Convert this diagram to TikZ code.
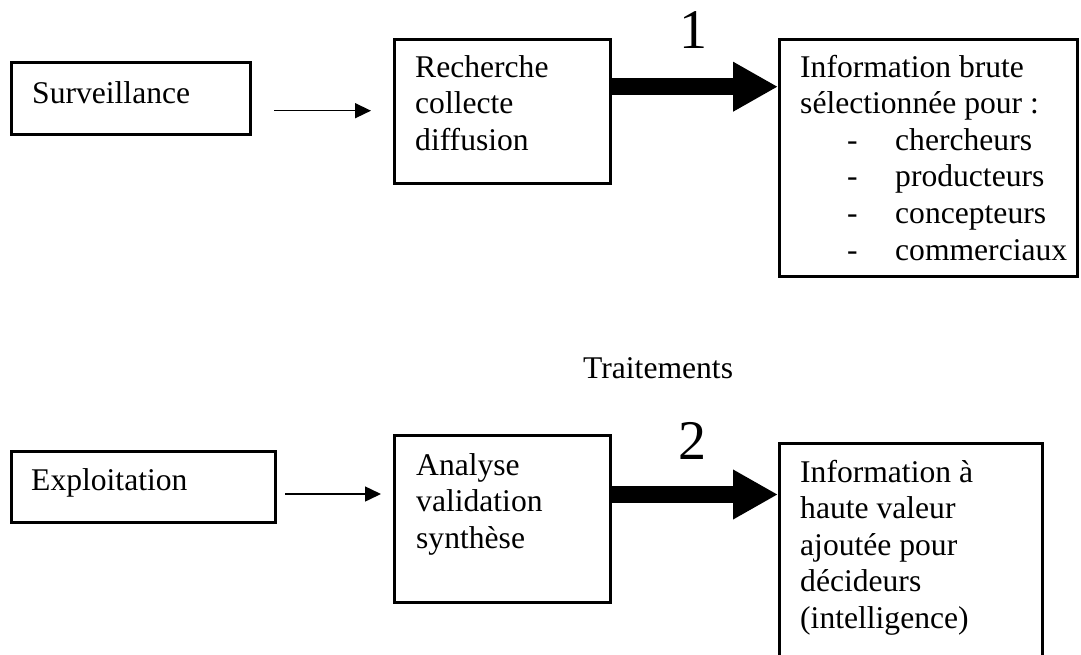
\documentclass[tikz,border=0pt]{standalone}
\usepackage{fontspec}
\setmainfont{Liberation Serif}
\usetikzlibrary{arrows.meta}
\begin{document}
\begin{tikzpicture}[x=1pt,y=-1pt,
  box/.style={draw, line width=3pt, rectangle, inner sep=0pt, anchor=north west},
  txt/.style={anchor=base west, inner sep=0pt, font=\fontsize{31.6pt}{36.6pt}\selectfont},
  num/.style={anchor=base, inner sep=0pt, font=\fontsize{56pt}{60pt}\selectfont},
  thinarrow/.style={line width=1.5pt, -{Triangle[length=16pt,width=15pt]}},
  thickarrow/.style={line width=16.7pt, -{Triangle[length=45pt,width=46.6pt]}},
]
\useasboundingbox (0,0) rectangle (1081,654);
\clip (0,0) rectangle (1081,654);

% ---- first row: surveillance ----
\node[box, minimum width=239.5pt, minimum height=72pt] (surv) at (9.5,61) {};
\node[txt] (surv-t) at (32,103) {Surveillance};

\node[box, minimum width=216pt, minimum height=144pt] (rech) at (393,37.5) {};
\node[txt] (rech-a) at (415,77) {Recherche};
\node[txt] (rech-b) at (415,113.6) {collecte};
\node[txt] (rech-c) at (415,150.2) {diffusion};

\node[box, minimum width=298pt, minimum height=236.5pt] (brute) at (778,38) {};
\node[txt] (brute-a) at (800,77) {Information brute};
\node[txt] (brute-b) at (800,113.6) {sélectionnée pour :};
\foreach \y/\w [count=\i] in {150.2/chercheurs, 186.8/producteurs, 223.4/concepteurs, 260/commerciaux}{
  \node[txt] (brute-d\i) at (847,\y) {-};
  \node[txt] (brute-i\i) at (895,\y) {\w};
}

\coordinate (s1) at (274,110.7);
\coordinate (e1) at (371,110.7);
\draw[thinarrow] (s1) -- (e1);

\coordinate (m1) at (0,86.7);
\draw[thickarrow] (rech.east |- m1) -- (brute.west |- m1);
\node[num] (n1) at (693,48.5) {1};

% ---- label between rows ----
\node[txt] (trait) at (583,378) {Traitements};

% ---- second row: exploitation ----
\node[box, minimum width=264.3pt, minimum height=71.2pt] (expl) at (9.5,449.8) {};
\node[txt] (expl-t) at (31,490.7) {Exploitation};

\node[box, minimum width=216pt, minimum height=167pt] (anal) at (393,434) {};
\node[txt] (anal-a) at (416,475) {Analyse};
\node[txt] (anal-b) at (416,511.6) {validation};
\node[txt] (anal-c) at (416,548.2) {synthèse};

\node[box, minimum width=262.5pt, minimum height=240pt] (haute) at (778,442) {};
\node[txt] (haute-a) at (800,482) {Information à};
\node[txt] (haute-b) at (800,518.6) {haute valeur};
\node[txt] (haute-c) at (800,555.2) {ajoutée pour};
\node[txt] (haute-d) at (800,591.8) {décideurs};
\node[txt] (haute-e) at (800,628.4) {(intelligence)};

\coordinate (s2) at (285,494);
\coordinate (e2) at (381,494);
\draw[thinarrow] (s2) -- (e2);

\coordinate (m2) at (0,494.5);
\draw[thickarrow] (anal.east |- m2) -- (haute.west |- m2);
\node[num] (n2) at (692.5,459) {2};
\end{tikzpicture}
\end{document}
